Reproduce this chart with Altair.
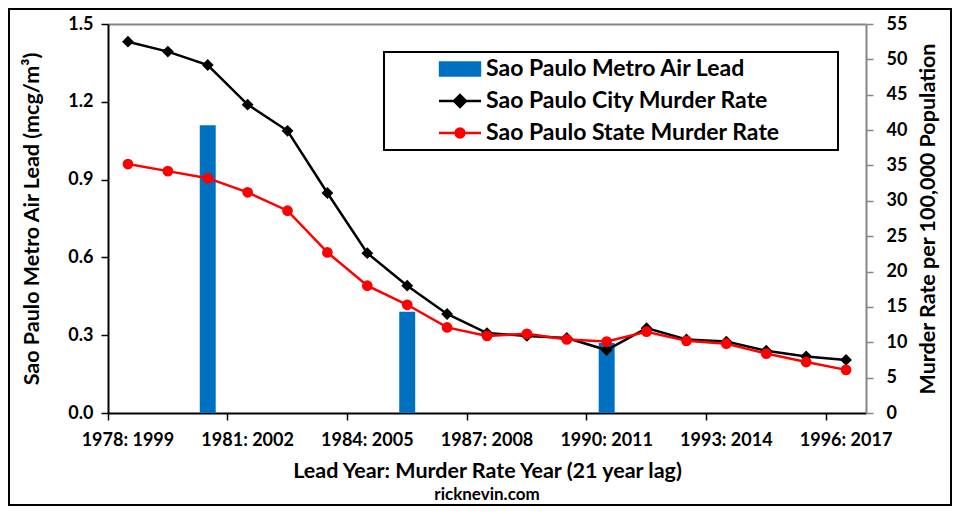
import altair as alt
import pandas as pd

categories = ["1978: 1999", "1979: 2000", "1980: 2001", "1981: 2002", "1982: 2003",
              "1983: 2004", "1984: 2005", "1985: 2006", "1986: 2007", "1987: 2008",
              "1988: 2009", "1989: 2010", "1990: 2011", "1991: 2012", "1992: 2013",
              "1993: 2014", "1994: 2015", "1995: 2016", "1996: 2017"]
tick_labels = ["1978: 1999", "1981: 2002", "1984: 2005", "1987: 2008",
               "1990: 2011", "1993: 2014", "1996: 2017"]
city_rate = [52.5, 51.1, 49.2, 43.6, 39.9, 31.1, 22.6, 18.0, 14.0, 11.3,
             10.9, 10.6, 8.9, 12.0, 10.4, 10.1, 8.8, 8.0, 7.5]
state_rate = [35.2, 34.2, 33.2, 31.2, 28.6, 22.7, 18.0, 15.3, 12.1, 10.9,
              11.2, 10.4, 10.1, 11.5, 10.2, 9.8, 8.4, 7.2, 6.1]
lead_years = ["1980: 2001", "1985: 2006", "1990: 2011"]
lead_values = [1.11, 0.39, 0.27]
left_ticks = [0.0, 0.3, 0.6, 0.9, 1.2, 1.5]
right_ticks = [0, 5, 10, 15, 20, 25, 30, 35, 40, 45, 50, 55]
series_names = ["Sao Paulo Metro Air Lead", "Sao Paulo City Murder Rate",
                "Sao Paulo State Murder Rate"]
series_colors = ["#0070C0", "#000000", "#FF0000"]

legend_paths = [
    "M-1.9,-0.62H1.9V0.62H-1.9Z",
    "M-2,0H2M0,-0.57L0.57,0L0,0.57L-0.57,0Z",
    "M-2,0H2M0.43,0A0.43,0.43,0,1,1,-0.43,0A0.43,0.43,0,1,1,0.43,0Z",
]

FONT = "Lato"

murder_df = pd.DataFrame({"cat": categories, "city": city_rate, "state": state_rate})
lead_df = pd.DataFrame({"cat": lead_years, "lead": lead_values})

x_axis = alt.Axis(
    values=tick_labels, bandPosition=0, labelAngle=0, labelFont=FONT,
    labelFontSize=18, labelFontWeight="bold", labelColor="black",
    labelPadding=11, tickSize=7, tickColor="black", tickWidth=1.5,
    domainColor="black", domainWidth=2, grid=False,
    title="Lead Year: Murder Rate Year (21 year lag)",
    titleFont=FONT, titleFontSize=21.5, titleFontWeight="bold", titleColor="black",
    titlePadding=11,
)
x_scale = alt.Scale(domain=categories, paddingInner=0, paddingOuter=0)


def xenc():
    return alt.X("cat:N", scale=x_scale, axis=x_axis)


left_axis = alt.Axis(
    orient="left", values=left_ticks, format=".1f", labelFont=FONT,
    labelFontSize=18, labelFontWeight="bold", labelColor="black",
    labelPadding=8, tickSize=7, tickColor="black", tickWidth=1.5,
    domainColor="black", domainWidth=2, grid=False,
    title="Sao Paulo Metro Air Lead (mcg/m³)", titleFont=FONT,
    titleFontSize=21.5, titleFontWeight="bold", titleColor="black", titlePadding=24,
)

right_axis = alt.Axis(
    orient="right", values=right_ticks, labelFont=FONT, labelFontSize=18,
    labelFontWeight="bold", labelColor="black", labelPadding=13, tickSize=7,
    tickColor="#868686", tickWidth=1.5, domainColor="#868686", domainWidth=2,
    grid=True,
    gridColor={"condition": {"test": "datum.value == 55", "value": "#868686"},
               "value": "transparent"},
    gridWidth=2,
    title="Murder Rate per 100,000 Population", titleFont=FONT, titleFontSize=21.5,
    titleFontWeight="bold", titleColor="black", titlePadding=11, titleAngle=270,
    titleBaseline="top",
)
right_scale = alt.Scale(domain=[0, 55])

bars = alt.Chart(lead_df).mark_bar(
    color="#0070C0", width=alt.RelativeBandSize(0.4)
).encode(
    x=xenc(),
    y=alt.Y("lead:Q", scale=alt.Scale(domain=[0, 1.5]), axis=left_axis),
)

city = alt.Chart(murder_df).mark_line(
    color="black", strokeWidth=2.5,
    point=alt.OverlayMarkDef(shape="diamond", size=140, filled=True, color="black"),
).encode(x=xenc(), y=alt.Y("city:Q", scale=right_scale, axis=right_axis))

state = alt.Chart(murder_df).mark_line(
    color="#FF0000", strokeWidth=2.5,
    point=alt.OverlayMarkDef(shape="circle", size=115, filled=True, color="#FF0000"),
).encode(x=xenc(), y=alt.Y("state:Q", scale=right_scale, axis=right_axis))

legend_def = alt.Legend(
    title="MM", titleOrient="right", titleColor="transparent", titleFontSize=21,
    titlePadding=18,
    orient="none", legendX=276, legendY=28, direction="vertical",
    labelFont=FONT, labelFontSize=23, labelFontWeight="bold", labelColor="black",
    labelLimit=600, labelOffset=14, symbolOffset=59, symbolSize=441,
    symbolStrokeWidth=2.5, symbolOpacity=1, rowPadding=8, padding=5,
)
legend_layer = alt.Chart(murder_df).transform_calculate(
    series="'x'"
).transform_filter("false").mark_point(
    filled=True, size=441, strokeWidth=2.5, opacity=1
).encode(
    fill=alt.Fill("series:N", scale=alt.Scale(domain=series_names, range=series_colors), legend=legend_def),
    stroke=alt.Stroke("series:N", scale=alt.Scale(domain=series_names, range=series_colors), legend=legend_def),
    shape=alt.Shape("series:N", scale=alt.Scale(domain=series_names, range=legend_paths), legend=legend_def),
)

frame = alt.Chart(alt.Data(values=[{"a": 1}])).mark_rect(
    fillOpacity=0, stroke="black", strokeWidth=2
).encode(
    x=alt.value(-99), x2=alt.value(843), y=alt.value(-15), y2=alt.value(481)
)

right_group = alt.layer(city, state, legend_layer)

chart = alt.layer(bars, right_group, frame).resolve_scale(
    y="independent"
).properties(
    width=758, height=389,
    padding={"left": 100, "top": 16, "right": 86, "bottom": 93},
    autosize=alt.AutoSizeParams(type="none"),
    background="white",
    title=alt.TitleParams("ricknevin.com", orient="bottom", anchor="middle",
                          font=FONT, fontSize=17, fontWeight="bold",
                          color="black", offset=-19),
).configure_view(stroke=None).configure_legend(
    strokeColor="black", strokeWidth=2, fillColor="white"
)

chart.save("out.html", embed_options={"renderer": "svg", "actions": False})
